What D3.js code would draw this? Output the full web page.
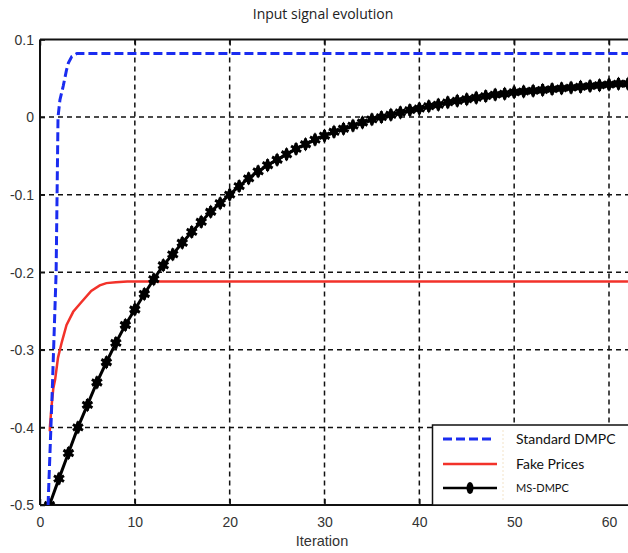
<!DOCTYPE html>
<html>
<head>
<meta charset="utf-8">
<script src="https://cdn.jsdelivr.net/npm/d3@7"></script>
<style>
  html, body { margin: 0; padding: 0; background: #fff; }
  svg { display: block; }
</style>
</head>
<body>
<svg id="chart" width="628" height="553"></svg>
<script>
// ---- data ----
const title = "Input signal evolution";
const xLabel = "Iteration";
const xTicks = [0, 10, 20, 30, 40, 50, 60];
const yTicks = [0.1, 0, -0.1, -0.2, -0.3, -0.4, -0.5];
const yTickLabels = ["0.1", "0", "-0.1", "-0.2", "-0.3", "-0.4", "-0.5"];
const seriesNames = ["Standard DMPC", "Fake Prices", "MS-DMPC"];

// Standard DMPC (iteration, value)
const stdIter  = [0.85, 1.3, 1.7, 1.9, 2.1, 2.45, 2.8, 3.0, 3.35, 3.9, 62];
const stdValue = [-0.5, -0.35, -0.2, 0.0, 0.022, 0.04, 0.061, 0.07, 0.078, 0.082, 0.082];

// Fake Prices (iteration, value)
const fakeIter  = [1.03, 1.05, 1.2, 1.4, 1.6, 1.9, 2.3, 2.8, 3.5, 4.4, 5.4, 6.3, 7.0, 8.0, 9.2, 62];
const fakeValue = [-0.405, -0.399, -0.375, -0.35, -0.338, -0.31, -0.29, -0.268, -0.251, -0.238, -0.224, -0.217, -0.214, -0.213, -0.212, -0.212];

// MS-DMPC, one value per iteration 1..62
const msIter = d3.range(1, 63);
const msValue = [
  -0.500, -0.466, -0.433, -0.400, -0.371, -0.342, -0.316, -0.291, -0.268, -0.248,
  -0.228, -0.209, -0.191, -0.177, -0.162, -0.148, -0.135, -0.122, -0.111, -0.100,
  -0.089, -0.079, -0.070, -0.062, -0.055, -0.048, -0.041, -0.035, -0.029, -0.024,
  -0.019, -0.015, -0.011, -0.007, -0.003,  0.000,  0.003,  0.006,  0.009,  0.011,
   0.014,  0.016,  0.019,  0.021,  0.023,  0.025,  0.027,  0.029,  0.030,  0.032,
   0.033,  0.034,  0.035,  0.036,  0.037,  0.038,  0.039,  0.040,  0.041,  0.042,
   0.043,  0.043
];

// ---- layout ----
const svg = d3.select("#chart");
const L = 40, T = 39.5, R = 629, B = 505;
const x = d3.scaleLinear().domain([0, 62]).range([L, L + 62 * (569 / 60)]);
const y = d3.scaleLinear().domain([-0.5, 0.1]).range([B, T]);

svg.append("defs").append("clipPath").attr("id", "clip")
  .append("rect").attr("x", L).attr("y", T).attr("width", R - L).attr("height", B - T);

// title
svg.append("text").attr("x", 323).attr("y", 19).attr("text-anchor", "middle")
  .style("font-family", "'Open Sans', sans-serif").style("font-size", "14px").attr("fill", "#222")
  .text(title);

// grid
const grid = svg.append("g");
grid.selectAll(".vg").data(xTicks.filter(d => d > 0)).join("line")
  .attr("x1", d => x(d)).attr("x2", d => x(d)).attr("y1", T).attr("y2", B)
  .attr("stroke", "#111").attr("stroke-width", 1.5).attr("stroke-dasharray", "5,4");
grid.selectAll(".hg").data(yTicks.filter(d => d < 0.09 && d > -0.49)).join("line")
  .attr("x1", L).attr("x2", R).attr("y1", d => y(d)).attr("y2", d => y(d))
  .attr("stroke", "#111").attr("stroke-width", 1.5).attr("stroke-dasharray", "5,4");

// axes frame
const frame = svg.append("g").attr("stroke", "#111").attr("stroke-width", 2).attr("fill", "none");
frame.append("line").attr("x1", L).attr("x2", L).attr("y1", T).attr("y2", B);
frame.append("line").attr("x1", L).attr("x2", R).attr("y1", T).attr("y2", T);
frame.append("line").attr("x1", L).attr("x2", R).attr("y1", B).attr("y2", B);

// tick marks via d3 axes
const xAxisB = d3.axisBottom(x).tickValues(xTicks).tickSize(-6).tickFormat(d => d);
const gxb = svg.append("g").attr("transform", `translate(0,${B})`).call(xAxisB);
gxb.select(".domain").remove();
gxb.selectAll(".tick line").attr("stroke", "#111").attr("stroke-width", 1.5);
gxb.selectAll(".tick text").attr("dy", "0").attr("y", 22)
  .style("font-family", "'Liberation Sans', Arial, sans-serif").style("font-size", "14px").attr("fill", "#333");

const xAxisT = d3.axisTop(x).tickValues(xTicks).tickSize(-6).tickFormat("");
const gxt = svg.append("g").attr("transform", `translate(0,${T})`).call(xAxisT);
gxt.select(".domain").remove();
gxt.selectAll(".tick line").attr("stroke", "#111").attr("stroke-width", 1.5);

const yAxis = d3.axisLeft(y).tickValues(yTicks).tickSize(-5).tickFormat((d, i) => yTickLabels[i]);
const gy = svg.append("g").attr("transform", `translate(${L},0)`).call(yAxis);
gy.select(".domain").remove();
gy.selectAll(".tick line").attr("stroke", "#111").attr("stroke-width", 1.5);
gy.selectAll(".tick text").attr("x", -6).attr("dy", "0.35em")
  .style("font-family", "'Liberation Sans', Arial, sans-serif").style("font-size", "14px").attr("fill", "#333");

// x label
svg.append("text").attr("x", 322).attr("y", 546).attr("text-anchor", "middle")
  .style("font-family", "'Liberation Sans', Arial, sans-serif").style("font-size", "14.5px").attr("fill", "#333")
  .text(xLabel);

// series
const plot = svg.append("g").attr("clip-path", "url(#clip)");
const line = d3.line().x(d => x(d[0])).y(d => y(d[1]));

const fakeData = fakeIter.map((d, i) => [d, fakeValue[i]]);
plot.append("path").datum(fakeData).attr("d", line)
  .attr("fill", "none").attr("stroke", "#f2322a").attr("stroke-width", 2.5);

const msData = msIter.map((d, i) => [d, msValue[i]]);
plot.append("path").datum(msData).attr("d", line)
  .attr("fill", "none").attr("stroke", "#000").attr("stroke-width", 3);

const ast = d3.symbolAsterisk || d3.symbolCross;
const markerStar = d3.symbol().type(ast).size(95);
const markerDia = d3.symbol().type(d3.symbolDiamond).size(60);
const mk = plot.append("g").selectAll("g").data(msData).join("g")
  .attr("transform", d => `translate(${x(d[0])},${y(d[1])})`);
mk.append("path").attr("d", markerDia).attr("fill", "#000");
mk.append("path").attr("d", markerStar).attr("fill", "none").attr("stroke", "#000").attr("stroke-width", 3);

const stdData = stdIter.map((d, i) => [d, stdValue[i]]);
plot.append("path").datum(stdData).attr("d", line)
  .attr("fill", "none").attr("stroke", "#1a2cf0").attr("stroke-width", 3).attr("stroke-dasharray", "9,4");

// legend
const lg = svg.append("g");
lg.append("rect").attr("x", 432.5).attr("y", 425).attr("width", 200).attr("height", 80)
  .attr("fill", "#fff").attr("stroke", "#111").attr("stroke-width", 1.5);
lg.append("line").attr("x1", 503).attr("x2", 503).attr("y1", 430).attr("y2", 500)
  .attr("stroke", "#f3e3c8").attr("stroke-width", 1).attr("stroke-dasharray", "2,2");
const ly = [439, 464, 488];
lg.append("line").attr("x1", 443).attr("x2", 495).attr("y1", ly[0]).attr("y2", ly[0])
  .attr("stroke", "#1a2cf0").attr("stroke-width", 3).attr("stroke-dasharray", "9,4");
lg.append("line").attr("x1", 443).attr("x2", 497).attr("y1", ly[1]).attr("y2", ly[1])
  .attr("stroke", "#f2322a").attr("stroke-width", 2.5);
lg.append("line").attr("x1", 443).attr("x2", 497).attr("y1", ly[2]).attr("y2", ly[2])
  .attr("stroke", "#000").attr("stroke-width", 2.5);
lg.append("ellipse").attr("cx", 470).attr("cy", ly[2]).attr("rx", 3.5).attr("ry", 6).attr("fill", "#000");
const fs = ["14px", "14px", "11px"];
seriesNames.forEach((n, i) => {
  lg.append("text").attr("x", 516).attr("y", ly[i]).attr("dy", "0.35em")
    .style("font-family", "Lato, 'Open Sans', sans-serif").style("font-size", fs[i]).attr("fill", "#111")
    .text(n);
});
</script>
</body>
</html>
